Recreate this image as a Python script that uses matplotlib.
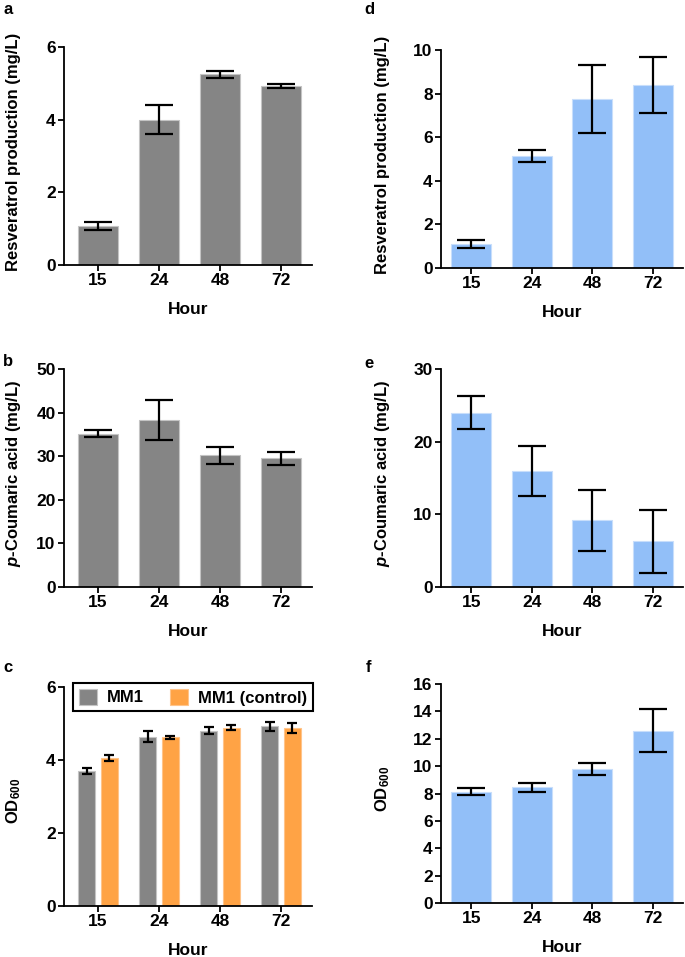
import numpy as np
import matplotlib
matplotlib.use('Agg')
import matplotlib.pyplot as plt

plt.rcParams['font.family'] = ['Liberation Sans', 'DejaVu Sans']
plt.rcParams['font.weight'] = 'bold'
plt.rcParams['mathtext.fontset'] = 'custom'
plt.rcParams['mathtext.rm'] = 'Liberation Sans:bold'
plt.rcParams['mathtext.it'] = 'Liberation Sans:italic:bold'
plt.rcParams['mathtext.bf'] = 'Liberation Sans:bold'

# Datos
hours = ['15', '24', '48', '72']

# a: resveratrol, MM1 (gris)
res_mm1 = [1.07, 4.00, 5.25, 4.93]
res_mm1_err = [0.12, 0.40, 0.10, 0.05]
# b: p-cumarico, MM1
pca_mm1 = [35.2, 38.4, 30.2, 29.5]
pca_mm1_err = [0.75, 4.6, 1.9, 1.5]
# c: OD600, MM1 y control
od_mm1 = [3.69, 4.64, 4.80, 4.92]
od_mm1_err = [0.08, 0.16, 0.10, 0.12]
od_ctrl = [4.06, 4.62, 4.88, 4.88]
od_ctrl_err = [0.09, 0.04, 0.07, 0.14]
# d: resveratrol (azul)
res_b = [1.10, 5.15, 7.76, 8.38]
res_b_err = [0.17, 0.27, 1.56, 1.28]
# e: p-cumarico (azul)
pca_b = [24.0, 16.0, 9.2, 6.3]
pca_b_err = [2.25, 3.45, 4.2, 4.35]
# f: OD600 (azul)
od_b = [8.13, 8.45, 9.80, 12.6]
od_b_err = [0.24, 0.32, 0.46, 1.54]

gray = '#858585'
blue = '#92bff8'
orange = '#ffa345'

W, H = 685, 957
fig = plt.figure(figsize=(W / 100, H / 100), dpi=100)


def ejes(l, t, r, b):
    return fig.add_axes([l / W, 1 - b / H, (r - l) / W, (b - t) / H])


def estilo(ax, ymax, yticks, ylabel, lab_x, lab_y, xl):
    ax.set_ylim(0, ymax)
    ax.set_yticks(yticks)
    ax.set_xlim(xl)
    ax.set_xticks(range(len(hours)))
    ax.set_xticklabels(hours)
    for s in ['top', 'right']:
        ax.spines[s].set_visible(False)
    for s in ['left', 'bottom']:
        ax.spines[s].set_linewidth(1.3)
    ax.tick_params(direction='out', length=4, width=1.3, labelsize=12.5, pad=2)
    ax.set_ylabel(ylabel, fontsize=12, fontweight='bold', va='center')
    ax.yaxis.set_label_coords(lab_x, lab_y)
    ax.set_xlabel('Hour', fontsize=12.5, fontweight='bold', va='center')
    ax.xaxis.set_label_coords(0.5, -0.205)


x = np.arange(len(hours))
ekw = dict(elinewidth=1.6, capthick=1.6, ecolor='black')

ax = ejes(64, 47, 312, 265)
ax.bar(x, res_mm1, 0.66, color=gray, edgecolor='#c4c4c4', linewidth=0.8,
       yerr=res_mm1_err, capsize=10, error_kw=ekw)
estilo(ax, 6, [0, 2, 4, 6], 'Resveratrol production (mg/L)', -0.205, 0.52, (-0.56, 3.51))

ax = ejes(64, 369, 312, 587)
ax.bar(x, pca_mm1, 0.66, color=gray, edgecolor='#c4c4c4', linewidth=0.8,
       yerr=pca_mm1_err, capsize=10, error_kw=ekw)
estilo(ax, 50, [0, 10, 20, 30, 40, 50], '$\\mathit{p}$-Coumaric acid (mg/L)', -0.205, 0.52, (-0.56, 3.51))

ax = ejes(64, 687, 312, 906)
ax.bar(x - 0.185, od_mm1, 0.28, color=gray, edgecolor='#c4c4c4', linewidth=0.8,
       yerr=od_mm1_err, capsize=3.5, error_kw=ekw, label='MM1')
ax.bar(x + 0.185, od_ctrl, 0.28, color=orange, edgecolor='#ffc48a', linewidth=0.8,
       yerr=od_ctrl_err, capsize=3.5, error_kw=ekw, label='MM1 (control)')
estilo(ax, 6, [0, 2, 4, 6], 'OD$_{600}$', -0.205, 0.48, (-0.56, 3.51))
leg = ax.legend(loc='upper left', ncol=2, mode='expand',
                bbox_to_anchor=(73 / W, 1 - 712 / H, 240 / W, 29 / H),
                bbox_transform=fig.transFigure, borderaxespad=0,
                fancybox=False, edgecolor='black', framealpha=1,
                prop={'size': 12, 'weight': 'bold'},
                handlelength=1.1, handleheight=1.1, handletextpad=0.6,
                borderpad=0.35, columnspacing=1.5)
leg.get_frame().set_linewidth(1.5)

ax = ejes(441, 50, 683, 268)
ax.bar(x, res_b, 0.66, color=blue, edgecolor='#c8defb', linewidth=0.8,
       yerr=res_b_err, capsize=10, error_kw=ekw)
estilo(ax, 10, [0, 2, 4, 6, 8, 10], 'Resveratrol production (mg/L)', -0.24, 0.52, (-0.5, 3.5))

ax = ejes(441, 369, 683, 587)
ax.bar(x, pca_b, 0.66, color=blue, edgecolor='#c8defb', linewidth=0.8,
       yerr=pca_b_err, capsize=10, error_kw=ekw)
estilo(ax, 30, [0, 10, 20, 30], '$\\mathit{p}$-Coumaric acid (mg/L)', -0.24, 0.52, (-0.5, 3.5))

ax = ejes(441, 684, 683, 903)
ax.bar(x, od_b, 0.66, color=blue, edgecolor='#c8defb', linewidth=0.8,
       yerr=od_b_err, capsize=10, error_kw=ekw)
estilo(ax, 16, [0, 2, 4, 6, 8, 10, 12, 14, 16], 'OD$_{600}$', -0.24, 0.52, (-0.5, 3.5))

# letras de los paneles
for lt, px, py in [('a', 8, 9), ('b', 8, 362), ('c', 8, 667),
                   ('d', 369, 9), ('e', 369, 363), ('f', 369, 667)]:
    fig.text(px / W, 1 - py / H, lt, fontsize=12, fontweight='bold',
             ha='center', va='center')

fig.savefig('out.png', dpi=100)
